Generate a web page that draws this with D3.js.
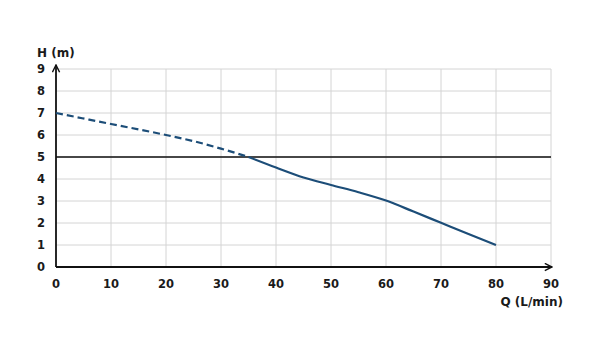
<!DOCTYPE html>
<html>
<head>
<meta charset="utf-8">
<script src="https://cdn.jsdelivr.net/npm/d3@7"></script>
<style>
  body { margin: 0; background: #fff; }
  text { font-family: "DejaVu Sans", sans-serif; font-weight: 700; fill: #1a1a1a; }
</style>
</head>
<body>
<div id="chart"></div>
<script>
// data
var xTicks = [0, 10, 20, 30, 40, 50, 60, 70, 80, 90];
var yTicks = [0, 1, 2, 3, 4, 5, 6, 7, 8, 9];
var dashedQ = [0, 10, 20, 25, 30, 35];
var dashedH = [7.0, 6.5, 6.0, 5.72, 5.38, 5.0];
var solidQ = [35, 40, 45, 50, 55, 60, 65, 70, 75, 80];
var solidH = [5.0, 4.52, 4.07, 3.73, 3.4, 3.02, 2.52, 2.01, 1.5, 1.0];
var refH = 5;

var width = 600, height = 361;
var margin = {top: 69, left: 56};
var innerW = 495, innerH = 198;

var svg = d3.select("#chart").append("svg")
    .attr("width", width)
    .attr("height", height);

var g = svg.append("g")
    .attr("transform", "translate(" + margin.left + "," + margin.top + ")");

var x = d3.scaleLinear().domain([0, 90]).range([0, innerW]);
var y = d3.scaleLinear().domain([0, 9]).range([innerH, 0]);

// grid
g.selectAll(".vgrid")
    .data(xTicks.slice(1))
    .enter().append("line")
    .attr("x1", function(d) { return x(d); })
    .attr("x2", function(d) { return x(d); })
    .attr("y1", 0).attr("y2", innerH)
    .attr("stroke", "#d4d4d4").attr("stroke-width", 1);

g.selectAll(".hgrid")
    .data(yTicks.slice(1))
    .enter().append("line")
    .attr("x1", 0).attr("x2", innerW)
    .attr("y1", function(d) { return y(d); })
    .attr("y2", function(d) { return y(d); })
    .attr("stroke", "#d4d4d4").attr("stroke-width", 1);

// reference line at 5 m
g.append("line")
    .attr("x1", 0).attr("x2", innerW)
    .attr("y1", y(refH)).attr("y2", y(refH))
    .attr("stroke", "#111").attr("stroke-width", 1.3);

// axes with arrows
svg.append("defs").append("marker")
    .attr("id", "arrow")
    .attr("viewBox", "0 0 10 10")
    .attr("refX", 9).attr("refY", 5)
    .attr("markerWidth", 5).attr("markerHeight", 5)
    .attr("orient", "auto")
    .append("path")
    .attr("d", "M1,1 L9,5 L1,9")
    .attr("fill", "none").attr("stroke", "#111").attr("stroke-width", 1.6);

g.append("line")
    .attr("x1", 0).attr("x2", 0)
    .attr("y1", innerH).attr("y2", -4)
    .attr("stroke", "#111").attr("stroke-width", 1.8)
    .attr("marker-end", "url(#arrow)");

g.append("line")
    .attr("x1", 0).attr("x2", innerW + 1)
    .attr("y1", innerH).attr("y2", innerH)
    .attr("stroke", "#111").attr("stroke-width", 1.8)
    .attr("marker-end", "url(#arrow)");

// tick labels
g.selectAll(".xlab")
    .data(xTicks)
    .enter().append("text")
    .attr("x", function(d) { return x(d); })
    .attr("y", innerH + 21)
    .attr("text-anchor", "middle")
    .attr("font-size", 11.5)
    .text(function(d) { return d; });

g.selectAll(".ylab")
    .data(yTicks)
    .enter().append("text")
    .attr("x", -15)
    .attr("y", function(d) { return y(d) + 4; })
    .attr("text-anchor", "middle")
    .attr("font-size", 11.5)
    .text(function(d) { return d; });

svg.append("text")
    .attr("x", 37).attr("y", 57)
    .attr("font-size", 12)
    .text("H (m)");

svg.append("text")
    .attr("x", 563).attr("y", 306)
    .attr("text-anchor", "end")
    .attr("font-size", 12)
    .text("Q (L/min)");

// curve
var line = d3.line()
    .curve(d3.curveMonotoneX)
    .x(function(d) { return x(d[0]); })
    .y(function(d) { return y(d[1]); });

g.append("path")
    .datum(d3.zip(dashedQ, dashedH))
    .attr("d", line)
    .attr("fill", "none")
    .attr("stroke", "#1c4d78")
    .attr("stroke-width", 2.2)
    .attr("stroke-dasharray", "7,4");

g.append("path")
    .datum(d3.zip(solidQ, solidH))
    .attr("d", line)
    .attr("fill", "none")
    .attr("stroke", "#1c4d78")
    .attr("stroke-width", 2.2);
</script>
</body>
</html>
